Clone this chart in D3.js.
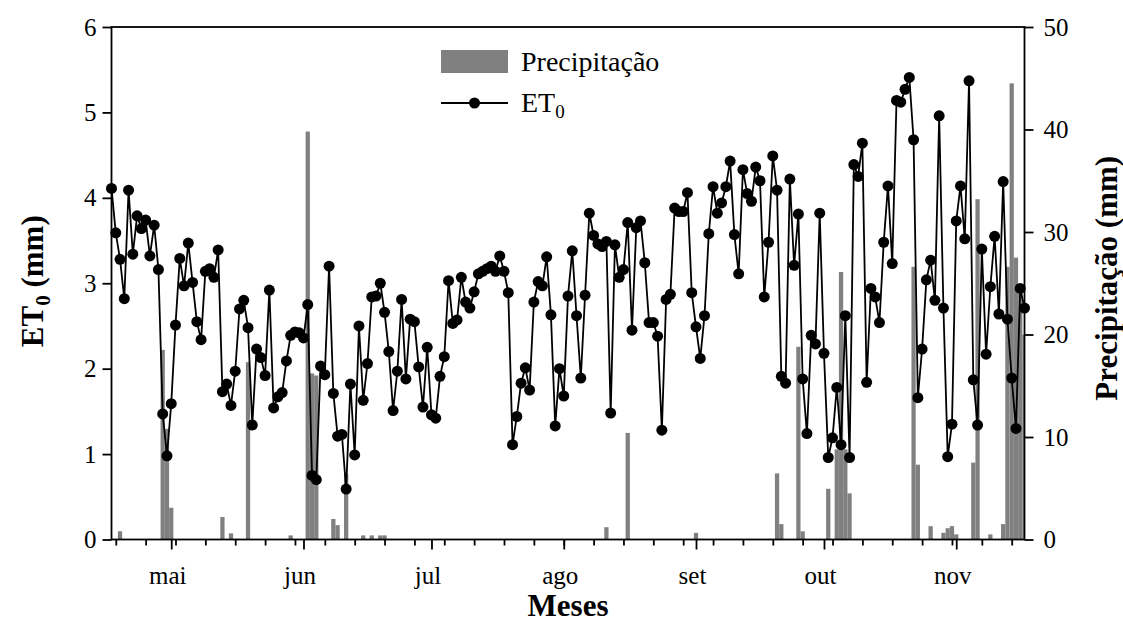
<!DOCTYPE html>
<html>
<head>
<meta charset="utf-8">
<script src="https://cdn.jsdelivr.net/npm/d3@7"></script>
<style>
  body { margin: 0; background: #fff; }
  text { font-family: "Liberation Serif", "Times New Roman", serif; fill: #000; }
</style>
</head>
<body>
<div id="chart"></div>
<script>
// Daily series, first day = 17 April
const firstDay = new Date(2015, 3, 17);

// ET0 (mm), one value per day
const et0 = [
  4.11, 3.59, 3.28, 2.82, 4.09, 3.34, 3.79, 3.64, 3.74, 3.32,
  3.68, 3.16, 1.47, 0.98, 1.59, 2.51, 3.29, 2.97, 3.47, 3.01,
  2.55, 2.34, 3.14, 3.17, 3.07, 3.39, 1.73, 1.82, 1.57, 1.97,
  2.70, 2.80, 2.48, 1.34, 2.23, 2.13, 1.92, 2.92, 1.54, 1.67,
  1.72, 2.09, 2.39, 2.43, 2.42, 2.36, 2.75, 0.75, 0.70, 2.03,
  1.93, 3.20, 1.71, 1.21, 1.23, 0.59, 1.82, 0.99, 2.50, 1.63,
  2.06, 2.84, 2.85, 3.00, 2.66, 2.20, 1.51, 1.97, 2.81, 1.88,
  2.58, 2.55, 2.02, 1.55, 2.25, 1.46, 1.42, 1.91, 2.14, 3.03,
  2.53, 2.57, 3.07, 2.78, 2.71, 2.90, 3.11, 3.14, 3.17, 3.20,
  3.14, 3.32, 3.14, 2.89, 1.11, 1.44, 1.83, 2.01, 1.75, 2.78,
  3.02, 2.97, 3.31, 2.63, 1.33, 2.00, 1.68, 2.85, 3.38, 2.62,
  1.89, 2.86, 3.82, 3.56, 3.46, 3.43, 3.49, 1.48, 3.45, 3.07,
  3.16, 3.71, 2.45, 3.65, 3.73, 3.24, 2.54, 2.54, 2.38, 1.28,
  2.81, 2.87, 3.88, 3.84, 3.84, 4.06, 2.89, 2.49, 2.12, 2.62,
  3.58, 4.13, 3.82, 3.94, 4.13, 4.43, 3.57, 3.11, 4.33, 4.05,
  3.96, 4.36, 4.20, 2.84, 3.48, 4.49, 4.09, 1.91, 1.83, 4.22,
  3.21, 3.81, 1.88, 1.24, 2.39, 2.29, 3.82, 2.18, 0.96, 1.19,
  1.78, 1.11, 2.62, 0.96, 4.39, 4.25, 4.64, 1.84, 2.94, 2.84,
  2.54, 3.48, 4.14, 3.23, 5.14, 5.12, 5.27, 5.41, 4.68, 1.66,
  2.23, 3.04, 3.27, 2.80, 4.96, 2.71, 0.97, 1.35, 3.73, 4.14,
  3.52, 5.37, 1.87, 1.34, 3.40, 2.17, 2.96, 3.55, 2.64, 4.19,
  2.58, 1.89, 1.30, 2.94, 2.71
];

// Precipitação (mm), one value per day
const rain = [
  0, 0, 0.8, 0, 0, 0, 0, 0, 0, 0,
  0, 0, 18.5, 10.8, 3.1, 0, 0, 0, 0, 0,
  0, 0, 0, 0, 0, 0, 2.2, 0, 0.6, 0,
  0, 0, 17.3, 0, 0, 0, 0, 0, 0, 0,
  0, 0, 0.4, 0, 0, 0, 39.8, 16.2, 16.0, 0,
  0, 0, 2.0, 1.4, 0, 6.4, 0, 0, 0, 0.4,
  0, 0.4, 0, 0.4, 0.4, 0, 0, 0, 0, 0,
  0, 0, 0, 0, 0, 0, 0, 0, 0, 0,
  0, 0, 0, 0, 0, 0, 0, 0, 0, 0,
  0, 0, 0, 0, 0, 0, 0, 0, 0, 0,
  0, 0, 0, 0, 0, 0, 0, 0, 0, 0,
  0, 0, 0, 0, 0, 0, 1.2, 0, 0, 0,
  0, 10.4, 0, 0, 0, 0, 0, 0, 0, 0,
  0, 0, 0, 0, 0, 0, 0, 0.65, 0, 0,
  0, 0, 0, 0, 0, 0, 0, 0, 0, 0,
  0, 0, 0, 0, 0, 0, 6.45, 1.5, 0, 0,
  0, 18.8, 0.8, 0, 0, 0, 0, 0, 4.95, 0,
  8.8, 26.1, 8.8, 4.5, 0, 0, 0, 0, 0, 0,
  0, 0, 0, 0, 0, 0, 0, 0, 26.6, 7.3,
  0, 0, 1.3, 0, 0, 0.65, 1.1, 1.3, 0.5, 0,
  0, 0, 7.5, 33.2, 0, 0, 0.5, 0, 0, 1.5,
  26.6, 44.5, 27.5, 24, 20
];

const monthLabels = ["mai", "jun", "jul", "ago", "set", "out", "nov"];
const et0Ticks = [0, 1, 2, 3, 4, 5, 6];
const rainTicks = [0, 10, 20, 30, 40, 50];

// Chart geometry
const width = 1123, height = 635;
const plotLeft = 111.5, plotRight = 1024.5, plotTop = 27, plotBottom = 539.5;

const svg = d3.select("#chart")
  .append("svg")
  .attr("width", width)
  .attr("height", height);

const days = et0.map((v, i) => d3.timeDay.offset(firstDay, i));
const lastDay = days[days.length - 1];

const x = d3.scaleTime()
  .domain([firstDay, lastDay])
  .range([plotLeft, plotRight]);
const yEt = d3.scaleLinear().domain([0, 6]).range([plotBottom, plotTop]);
const yRain = d3.scaleLinear().domain([0, 50]).range([plotBottom, plotTop]);

svg.append("clipPath").attr("id", "plot-clip")
  .append("rect")
  .attr("x", plotLeft).attr("y", plotTop)
  .attr("width", plotRight - plotLeft).attr("height", plotBottom - plotTop);

// Precipitation bars (one day wide, centred on the day)
const dayWidth = x(d3.timeDay.offset(firstDay, 1)) - x(firstDay);
const rainData = days.map((d, i) => ({ date: d, value: rain[i] })).filter(d => d.value > 0);

svg.append("g")
  .attr("clip-path", "url(#plot-clip)")
  .selectAll("rect")
  .data(rainData)
  .join("rect")
  .attr("x", d => x(d.date) - dayWidth / 2)
  .attr("y", d => yRain(d.value))
  .attr("width", dayWidth)
  .attr("height", d => plotBottom - yRain(d.value))
  .attr("fill", "#808080");

// ET0 line + markers
const etData = days.map((d, i) => ({ date: d, value: et0[i] }));
const line = d3.line().x(d => x(d.date)).y(d => yEt(d.value));

svg.append("path")
  .datum(etData)
  .attr("d", line)
  .attr("fill", "none")
  .attr("stroke", "#000")
  .attr("stroke-width", 1.8);

svg.append("g")
  .selectAll("circle")
  .data(etData)
  .join("circle")
  .attr("cx", d => x(d.date))
  .attr("cy", d => yEt(d.value))
  .attr("r", 5.5)
  .attr("fill", "#000");

// Frame
svg.append("rect")
  .attr("x", plotLeft).attr("y", plotTop)
  .attr("width", plotRight - plotLeft).attr("height", plotBottom - plotTop)
  .attr("fill", "none")
  .attr("stroke", "#000")
  .attr("stroke-width", 1.8);

function styleAxis(g, size) {
  g.select(".domain").remove();
  g.selectAll(".tick line").attr("stroke", "#000").attr("stroke-width", 1.8);
  g.selectAll(".tick text")
    .attr("font-family", "Liberation Serif, Times New Roman, serif")
    .attr("font-size", size);
}

// Left axis
svg.append("g")
  .attr("transform", `translate(${plotLeft},0)`)
  .call(d3.axisLeft(yEt).tickValues(et0Ticks).tickSize(9).tickPadding(6).tickFormat(d3.format("d")))
  .call(g => styleAxis(g, 25));

// Right axis
svg.append("g")
  .attr("transform", `translate(${plotRight},0)`)
  .call(d3.axisRight(yRain).tickValues(rainTicks).tickSize(9).tickPadding(10).tickFormat(d3.format("d")))
  .call(g => styleAxis(g, 25));

// Bottom axis: weekly minor ticks, monthly major ticks with labels
const weekTicks = d3.timeDay.range(d3.timeDay.offset(firstDay, 1), lastDay, 7);
const monthTicks = d3.timeMonth.range(d3.timeMonth.ceil(firstDay), lastDay);

svg.append("g")
  .attr("transform", `translate(0,${plotBottom})`)
  .call(d3.axisBottom(x).tickValues(weekTicks).tickSize(6).tickFormat(""))
  .call(g => styleAxis(g, 25));

svg.append("g")
  .attr("transform", `translate(0,${plotBottom})`)
  .call(d3.axisBottom(x).tickValues(monthTicks).tickSize(10).tickPadding(17)
    .tickFormat((d, i) => monthLabels[i]))
  .call(g => styleAxis(g, 25))
  .call(g => g.selectAll(".tick text").attr("dx", -4));

// Axis titles
const leftTitle = svg.append("text")
  .attr("transform", `translate(43,${(plotTop + plotBottom) / 2 - 2}) rotate(-90)`)
  .attr("text-anchor", "middle")
  .attr("font-weight", "bold")
  .attr("font-size", 31);
leftTitle.append("tspan").text("ET");
leftTitle.append("tspan").attr("font-size", 21).attr("dy", 7).text("0");
leftTitle.append("tspan").attr("dy", -7).text(" (mm)");

svg.append("text")
  .attr("transform", `translate(1117,${(plotTop + plotBottom) / 2 - 5}) rotate(-90)`)
  .attr("text-anchor", "middle")
  .attr("font-weight", "bold")
  .attr("font-size", 31)
  .text("Precipitação (mm)");

svg.append("text")
  .attr("x", (plotLeft + plotRight) / 2)
  .attr("y", 616)
  .attr("text-anchor", "middle")
  .attr("font-weight", "bold")
  .attr("font-size", 31)
  .text("Meses");

// Legend
const legend = svg.append("g");
legend.append("rect")
  .attr("x", 441).attr("y", 50).attr("width", 67).attr("height", 23)
  .attr("fill", "#808080");
legend.append("text")
  .attr("x", 521).attr("y", 71)
  .attr("font-size", 28)
  .text("Precipitação");

legend.append("line")
  .attr("x1", 441).attr("x2", 508).attr("y1", 103).attr("y2", 103)
  .attr("stroke", "#000").attr("stroke-width", 1.8);
legend.append("circle")
  .attr("cx", 474.5).attr("cy", 103).attr("r", 5.5).attr("fill", "#000");
const legEt = legend.append("text")
  .attr("x", 521).attr("y", 112)
  .attr("font-size", 28);
legEt.append("tspan").text("ET");
legEt.append("tspan").attr("font-size", 19).attr("dy", 6).text("0");
</script>
</body>
</html>
